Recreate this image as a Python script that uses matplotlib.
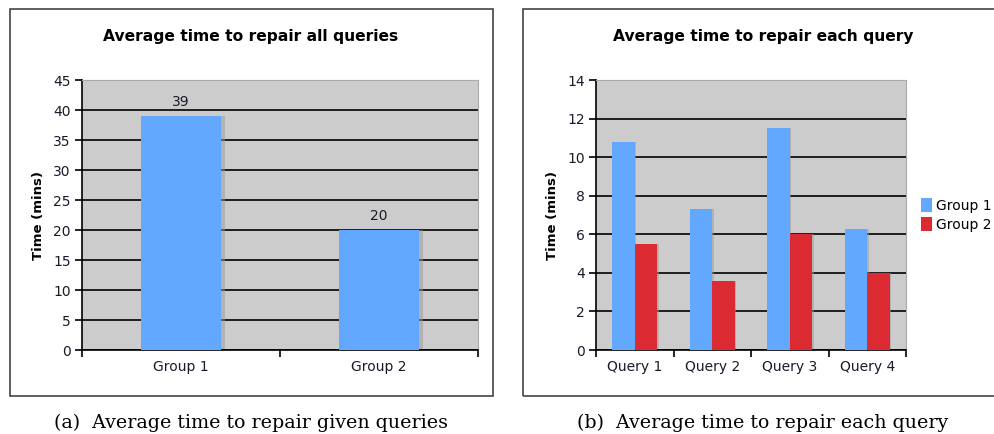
import matplotlib.pyplot as plt
import numpy as np
from matplotlib.patches import Rectangle

# data
groups = ['Group 1', 'Group 2']
avg_all = [39, 20]

queries = ['Query 1', 'Query 2', 'Query 3', 'Query 4']
group1 = [10.8, 7.3, 11.5, 6.25]
group2 = [5.5, 3.6, 6.0, 4.0]

BLUE = '#62a8fe'
RED = '#dc2a33'
FACE = '#cccccc'
TXT = '#1a1a2a'

W, H = 994, 434
fig = plt.figure(figsize=(W / 100, H / 100), dpi=100)


def px(x0, y0, x1, y1):
    # pixel box (top-left origin) -> figure coords
    return [x0 / W, (H - y1) / H, (x1 - x0) / W, (y1 - y0) / H]


# outer frames
for x0, y0, x1, y1 in [(10, 9, 493, 396), (523, 9, 1000, 396)]:
    fig.patches.append(Rectangle((x0 / W, (H - y1) / H), (x1 - x0) / W, (y1 - y0) / H,
                                 transform=fig.transFigure, fill=False,
                                 edgecolor='#444444', lw=1.2))


def style(ax, ymax, step):
    ax.set_facecolor(FACE)
    ax.set_ylim(0, ymax)
    ax.set_yticks(np.arange(0, ymax + 0.1, step))
    ax.yaxis.grid(True, color='black', lw=1.2)
    ax.set_axisbelow(True)
    for s in ['top', 'right']:
        ax.spines[s].set_color('#aaaaaa')
    for s in ['left', 'bottom']:
        ax.spines[s].set_color('black')
        ax.spines[s].set_linewidth(1.2)
    ax.tick_params(axis='y', direction='out', length=5, width=1.2, labelsize=10,
                   labelcolor=TXT, pad=3)
    ax.tick_params(axis='x', which='minor', length=0, labelsize=10, labelcolor=TXT, pad=7)
    ax.tick_params(axis='x', which='major', direction='out', length=5, width=1.2,
                   labelbottom=False)
    ax.set_ylabel('Time (mins)', fontsize=9.5, fontweight='bold')


# (a)
ax1 = fig.add_axes(px(82, 80, 478, 350))
x1 = np.arange(len(groups))
ax1.bar(x1 + 0.02, avg_all, width=0.4, color='#999999', alpha=0.5, zorder=2)
ax1.bar(x1, avg_all, width=0.4, color=BLUE, zorder=3)
for xi, v in zip(x1, avg_all):
    ax1.text(xi, v + 1.2, str(v), ha='center', va='bottom', fontsize=10, color=TXT)
ax1.set_xlim(-0.5, len(groups) - 0.5)
style(ax1, 45, 5)
ax1.set_xticks(np.arange(-0.5, len(groups)))
ax1.set_xticks(x1, minor=True)
ax1.set_xticklabels(groups, minor=True)
ax1.yaxis.set_label_coords(-0.094, 0.5)
fig.text(251 / W, 1 - 36 / H, 'Average time to repair all queries', ha='center',
         va='center', fontsize=11.2, fontweight='bold')
fig.text(251 / W, 1 - 423 / H, '(a)  Average time to repair given queries', ha='center',
         va='center', fontsize=13.7, family='DejaVu Serif')

# (b)
ax2 = fig.add_axes(px(596, 80, 906, 350))
x2 = np.arange(len(queries))
bw = 0.29
ax2.bar(x2 - bw / 2 + 0.02, group1, width=bw, color='#999999', alpha=0.5, zorder=2)
ax2.bar(x2 + bw / 2 + 0.02, group2, width=bw, color='#999999', alpha=0.5, zorder=2)
ax2.bar(x2 - bw / 2, group1, width=bw, color=BLUE, zorder=3, label='Group 1')
ax2.bar(x2 + bw / 2, group2, width=bw, color=RED, zorder=3, label='Group 2')
ax2.set_xlim(-0.5, len(queries) - 0.5)
style(ax2, 14, 2)
ax2.set_xticks(np.arange(-0.5, len(queries)))
ax2.set_xticks(x2, minor=True)
ax2.set_xticklabels(queries, minor=True)
ax2.yaxis.set_label_coords(-0.12, 0.5)
ax2.legend(loc='center left', bbox_to_anchor=(1.03, 0.5), frameon=False, fontsize=10,
           handlelength=0.8, handleheight=1.1, handletextpad=0.3, labelspacing=0.35,
           borderaxespad=0.0)
fig.text(763 / W, 1 - 36 / H, 'Average time to repair each query', ha='center',
         va='center', fontsize=11.2, fontweight='bold')
fig.text(763 / W, 1 - 423 / H, '(b)  Average time to repair each query', ha='center',
         va='center', fontsize=13.7, family='DejaVu Serif')

plt.savefig('out.png', dpi=100)
